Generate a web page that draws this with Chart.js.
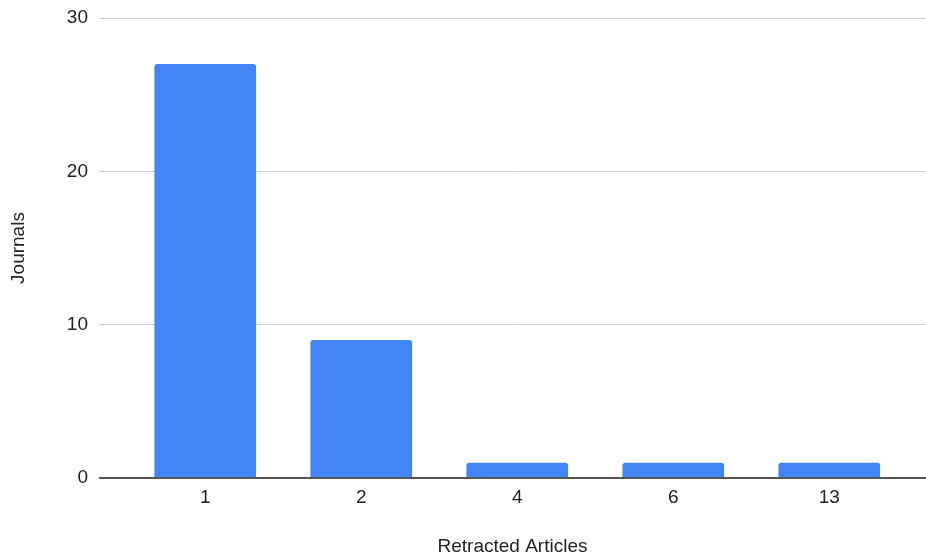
<!DOCTYPE html>
<html>
<head>
<meta charset="utf-8">
<script src="https://cdn.jsdelivr.net/npm/chart.js@4/dist/chart.umd.min.js"></script>
<style>
  html, body { margin: 0; padding: 0; background: #fff; }
  #wrap { width: 926px; height: 558px; position: relative; }
</style>
</head>
<body>
<div id="wrap"><canvas id="barChart"></canvas></div>
<script>
// categories = number of retracted articles, values = number of journals
const categories = ['1', '2', '4', '6', '13'];
const journals = [27, 9, 1, 1, 1];
const yTicks = [0, 10, 20, 30];

const textColor = '#222222';
const fontFamily = 'Arial, "Liberation Sans", sans-serif';
const fontSize = 19;

// bars sit on a linear axis (index positions) so the plot can be inset like the original
const points = journals.map((v, i) => ({ x: i, y: v }));

new Chart(document.getElementById('barChart'), {
    type: 'bar',
    data: {
        datasets: [{
            label: 'Journals',
            data: points,
            backgroundColor: '#4285f4',
            borderRadius: { topLeft: 3, topRight: 3 },
            borderSkipped: 'bottom',
            categoryPercentage: 1,
            barPercentage: 0.652
        }]
    },
    options: {
        responsive: true,
        maintainAspectRatio: false,
        animation: false,
        layout: { padding: { top: 18, right: 0, bottom: 0, left: 0 } },
        plugins: {
            legend: { display: false },
            tooltip: { enabled: false }
        },
        scales: {
            x: {
                type: 'linear',
                offset: false,
                min: -0.681,
                max: 4.62,
                afterBuildTicks: (scale) => { scale.ticks = categories.map((c, i) => ({ value: i })); },
                grid: { display: false, drawTicks: false, offset: false },
                border: { display: false },
                ticks: {
                    color: textColor,
                    font: { family: fontFamily, size: fontSize },
                    padding: 8,
                    maxRotation: 0,
                    callback: (value) => categories[value]
                },
                title: {
                    display: true,
                    text: 'Retracted Articles',
                    color: textColor,
                    font: { family: fontFamily, size: fontSize },
                    padding: { top: 0, bottom: 0 }
                },
                afterFit: (scale) => {
                    scale.height = 80;
                    scale.paddingLeft = 0;
                    scale.paddingRight = 0;
                }
            },
            y: {
                min: 0,
                max: 30,
                afterBuildTicks: (scale) => { scale.ticks = yTicks.map(v => ({ value: v })); },
                grid: {
                    drawTicks: false,
                    color: (ctx) => ctx.tick && ctx.tick.value === 0 ? '#555555' : '#cccccc',
                    lineWidth: (ctx) => ctx.tick && ctx.tick.value === 0 ? 2 : 1
                },
                border: { display: false },
                ticks: { color: textColor, font: { family: fontFamily, size: fontSize }, padding: 11 },
                title: {
                    display: true,
                    text: 'Journals',
                    color: textColor,
                    font: { family: fontFamily, size: fontSize },
                    padding: { top: 7, bottom: 0 }
                },
                afterFit: (scale) => {
                    scale.width = 99;
                    scale.paddingTop = 0;
                    scale.paddingBottom = 0;
                }
            }
        }
    }
});
</script>
</body>
</html>
